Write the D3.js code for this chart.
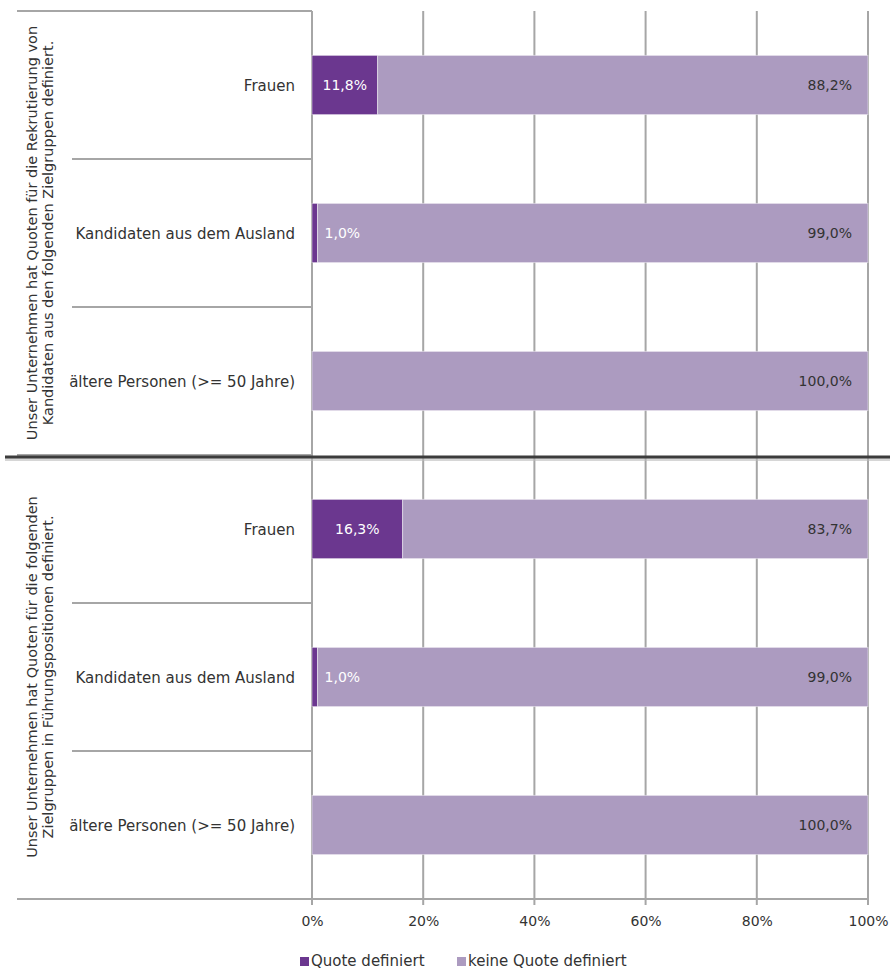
<!DOCTYPE html>
<meta charset="utf-8">
<style>
body { margin: 0; background: #fff; font-family: "DejaVu Sans", sans-serif; }
text { fill: #333; }
</style>
<body>
<svg width="890" height="972"></svg>
<script src="https://d3js.org/d3.v7.min.js"></script>
<script>

// data
var groupLabels = [
    ["Unser Unternehmen hat Quoten für die Rekrutierung von", "Kandidaten aus den folgenden Zielgruppen definiert."],
    ["Unser Unternehmen hat Quoten für die folgenden", "Zielgruppen in Führungspositionen definiert."]
];
var categories = ["Frauen", "Kandidaten aus dem Ausland", "ältere Personen (>= 50 Jahre)"];
var quoteDefiniert = [11.8, 1.0, 0, 16.3, 1.0, 0];
var keineQuote = [88.2, 99.0, 100.0, 83.7, 99.0, 100.0];
var seriesNames = ["Quote definiert", "keine Quote definiert"];
var tickValues = [0, 20, 40, 60, 80, 100];

var colors = ["#6b378f", "#ac9bc0"];
var gridColor = "#a6a6a6";

var svg = d3.select("svg"),
    top0 = 11, bottom0 = 899,
    left0 = 312, right0 = 868;

var rows = d3.range(quoteDefiniert.length);

var x = d3.scaleLinear().domain([0, 100]).range([left0, right0]);
var y = d3.scaleBand().domain(rows).range([top0, bottom0]).paddingInner(0.6).paddingOuter(0.3);
var step = y.step();

var fmt = function(v) { return d3.format(".1f")(v).replace(".", ",") + "%"; };

// vertical gridlines + ticks below
svg.append("g").selectAll("line")
    .data(tickValues)
    .enter().append("line")
    .attr("x1", function(d) { return x(d); })
    .attr("x2", function(d) { return x(d); })
    .attr("y1", top0)
    .attr("y2", bottom0 + 6)
    .attr("stroke", gridColor)
    .attr("stroke-width", 2);

// row separators on the left side
svg.append("g").selectAll("line")
    .data(d3.range(rows.length + 1))
    .enter().append("line")
    .attr("x1", function(i) { return i % 3 === 0 ? 17 : 72; })
    .attr("x2", left0)
    .attr("y1", function(i) { return top0 + i * step; })
    .attr("y2", function(i) { return top0 + i * step; })
    .attr("stroke", gridColor)
    .attr("stroke-width", 2);

// bottom axis line
svg.append("line")
    .attr("x1", 17).attr("x2", right0)
    .attr("y1", bottom0).attr("y2", bottom0)
    .attr("stroke", gridColor)
    .attr("stroke-width", 2);

// tick labels
var axis = svg.append("g")
    .attr("transform", "translate(0," + bottom0 + ")")
    .call(d3.axisBottom(x).tickValues(tickValues).tickSize(0).tickPadding(17)
        .tickFormat(function(d) { return d + "%"; }));
axis.select(".domain").remove();
axis.selectAll("text")
    .style("font-family", "DejaVu Sans")
    .style("font-size", "14px")
    .attr("fill", "#333");

// stacked bars
var stacked = rows.map(function(i) {
    return [
        {row: i, s: 0, x0: 0, x1: quoteDefiniert[i], v: quoteDefiniert[i]},
        {row: i, s: 1, x0: quoteDefiniert[i], x1: quoteDefiniert[i] + keineQuote[i], v: keineQuote[i]}
    ];
});
var segs = d3.merge(stacked).filter(function(d) { return d.v > 0; });

svg.append("g").selectAll("rect")
    .data(segs)
    .enter().append("rect")
    .attr("x", function(d) { return x(d.x0); })
    .attr("width", function(d) { return x(d.x1) - x(d.x0); })
    .attr("y", function(d) { return y(d.row); })
    .attr("height", y.bandwidth())
    .attr("fill", function(d) { return colors[d.s]; })
    .attr("stroke", "#fff")
    .attr("stroke-opacity", 0.45)
    .attr("stroke-width", 1);

// value labels
svg.append("g").selectAll("text")
    .data(segs)
    .enter().append("text")
    .attr("x", function(d) {
        var w = x(d.x1) - x(d.x0);
        if (d.s === 1) return x(d.x1) - 16;
        return w > 50 ? (x(d.x0) + x(d.x1)) / 2 : x(d.x1) + 7;
    })
    .attr("y", function(d) { return y(d.row) + y.bandwidth() / 2; })
    .attr("dy", "0.35em")
    .attr("text-anchor", function(d) {
        if (d.s === 1) return "end";
        return (x(d.x1) - x(d.x0)) > 50 ? "middle" : "start";
    })
    .style("font-size", "14px")
    .style("fill", function(d) { return d.s === 0 ? "#fff" : "#333"; })
    .text(function(d) { return fmt(d.v); });

// category labels
svg.append("g").selectAll("text")
    .data(rows)
    .enter().append("text")
    .attr("x", left0 - 17)
    .attr("y", function(i) { return y(i) + y.bandwidth() / 2 + 1; })
    .attr("dy", "0.35em")
    .attr("text-anchor", "end")
    .style("font-size", "15px")
    .text(function(i) { return categories[i % 3]; });

// group labels (rotated)
var gl = svg.append("g").selectAll("text")
    .data(groupLabels)
    .enter().append("text")
    .attr("transform", function(d, gi) {
        return "translate(0," + (top0 + (gi * 3 + 1.5) * step) + ") rotate(-90)";
    })
    .attr("text-anchor", "middle")
    .style("font-size", "14.5px");
gl.selectAll("tspan")
    .data(function(d) { return d; })
    .enter().append("tspan")
    .attr("x", 0)
    .attr("y", function(d, li) { return 37 + li * 16; })
    .text(function(d) { return d; });

// thick separator between the two groups
var sepY = top0 + 3 * step + 2;
svg.append("line")
    .attr("x1", 5).attr("x2", 890)
    .attr("y1", sepY + 2.5).attr("y2", sepY + 2.5)
    .attr("stroke", "#bbb").attr("stroke-opacity", 0.6)
    .attr("stroke-width", 3);
svg.append("line")
    .attr("x1", 5).attr("x2", 890)
    .attr("y1", sepY).attr("y2", sepY)
    .attr("stroke", "#3c3c3c")
    .attr("stroke-width", 3);

// legend
var legendX = [300, 457];
var legend = svg.append("g").selectAll("g")
    .data(seriesNames)
    .enter().append("g")
    .attr("transform", function(d, i) { return "translate(" + legendX[i] + ",957)"; });
legend.append("rect")
    .attr("width", 9).attr("height", 9)
    .attr("fill", function(d, i) { return colors[i]; });
legend.append("text")
    .attr("x", 11).attr("y", 9)
    .style("font-size", "15px")
    .text(function(d) { return d; });

</script>
